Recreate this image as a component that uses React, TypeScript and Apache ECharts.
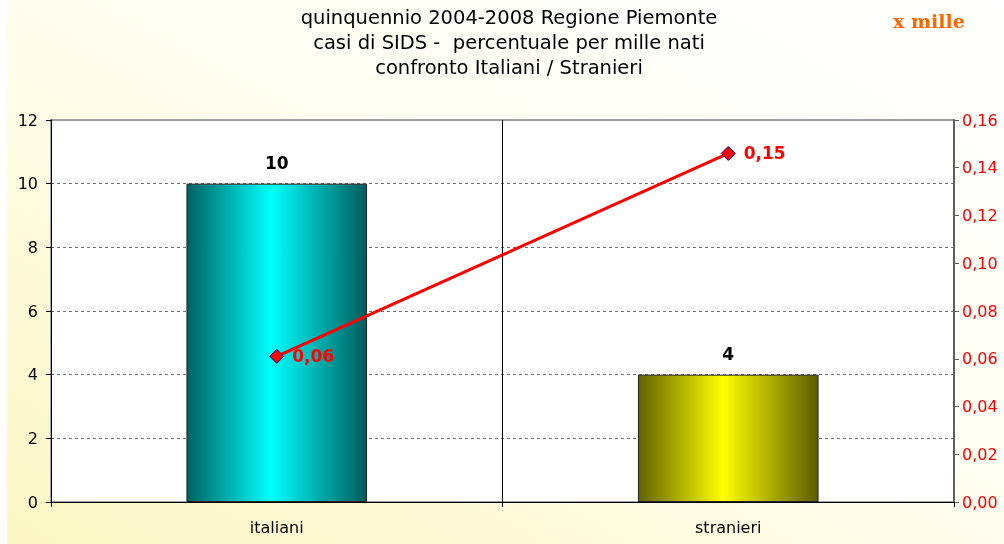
import React, { useEffect, useRef } from "react";
import * as echarts from "echarts";

const categories = ["italiani", "stranieri"];
const casiValues = [10, 4];
const perMilleValues = [0.061, 0.146];
const titleLines = [
  "quinquennio 2004-2008 Regione Piemonte",
  "casi di SIDS -  percentuale per mille nati",
  "confronto Italiani / Stranieri",
];
const unitNote = "x mille";

const barGradients = [
  ["#006262", "#00ffff", "#005c5c"],
  ["#626200", "#ffff00", "#5c5c00"],
];

const fmt = (v: number) => v.toFixed(2).replace(".", ",");

export default function App() {
  const ref = useRef<HTMLDivElement>(null);
  useEffect(() => {
    if (!ref.current) return;
    const chart = echarts.init(ref.current, null, { renderer: "svg" });
    const font = "'DejaVu Sans', Verdana, sans-serif";
    chart.setOption({
      animation: false,
      textStyle: { fontFamily: font },
      graphic: [
        {
          type: "rect",
          z: -100,
          silent: true,
          shape: { x: 7, y: 0, width: 997, height: 544 },
          style: {
            fill: new echarts.graphic.LinearGradient(0, 1, 1, 0, [
              { offset: 0, color: "#fcf7c4" },
              { offset: 0.3, color: "#fefbdc" },
              { offset: 0.55, color: "#fefef2" },
              { offset: 1, color: "#ffffff" },
            ]),
          },
        },
        ...titleLines.map((line, i) => ({
          type: "text",
          x: 509,
          y: 17 + i * 25,
          style: {
            text: line,
            fontFamily: font,
            fontSize: 19.5,
            fill: "#000",
            align: "center",
            verticalAlign: "middle",
          },
        })),
        {
          type: "text",
          x: 893,
          y: 21,
          style: {
            text: unitNote,
            fontFamily: "'DejaVu Serif', 'Liberation Serif', serif",
            fontWeight: "bold",
            fontSize: 19,
            fill: "#ff6600",
            align: "left",
            verticalAlign: "middle",
          },
        },
      ],
      grid: {
        left: 51,
        right: 50,
        top: 120,
        bottom: 42,
        show: true,
        backgroundColor: "#ffffff",
        borderColor: "#a0a0a0",
        borderWidth: 2,
      },
      xAxis: {
        type: "category",
        data: categories,
        boundaryGap: true,
        axisLine: { lineStyle: { color: "#000", width: 1 } },
        axisTick: { show: true, length: 5, lineStyle: { color: "#000" } },
        splitLine: { show: true, lineStyle: { color: "#000", width: 1 } },
        axisLabel: { color: "#000", fontSize: 16, margin: 17, fontFamily: font },
      },
      yAxis: [
        {
          type: "value",
          min: 0,
          max: 12,
          interval: 2,
          axisLine: { show: true, lineStyle: { color: "#000" } },
          axisTick: { show: true, length: 5, lineStyle: { color: "#000" } },
          axisLabel: { color: "#000", fontSize: 16, margin: 13, fontFamily: font },
          splitLine: {
            show: true,
            showMinLine: false,
            showMaxLine: false,
            lineStyle: { color: "#707070", type: [3, 3], width: 1 },
          },
        },
        {
          type: "value",
          position: "right",
          min: 0,
          max: 0.16,
          interval: 0.02,
          axisLine: { show: true, lineStyle: { color: "#606060", width: 2 } },
          axisTick: { show: true, length: 5, lineStyle: { color: "#606060" } },
          axisLabel: {
            color: "#ff0000",
            fontSize: 16,
            margin: 8,
            fontFamily: font,
            formatter: (v: number) => fmt(v),
          },
          splitLine: { show: false },
        },
      ],
      series: [
        {
          type: "bar",
          yAxisIndex: 0,
          barWidth: "40%",
          data: casiValues.map((v, i) => ({
            value: v,
            itemStyle: {
              color: new echarts.graphic.LinearGradient(0, 0, 1, 0, [
                { offset: 0, color: barGradients[i][0] },
                { offset: 0.47, color: barGradients[i][1] },
                { offset: 1, color: barGradients[i][2] },
              ]),
              borderColor: "#222",
              borderWidth: 1,
            },
          })),
          label: {
            show: true,
            position: "top",
            distance: 12,
            color: "#000",
            fontWeight: "bold",
            fontSize: 17,
            fontFamily: font,
          },
        },
        {
          type: "line",
          yAxisIndex: 1,
          data: perMilleValues,
          symbol: "diamond",
          symbolSize: 14,
          lineStyle: { color: "#ff0000", width: 3 },
          itemStyle: { color: "#ff0000", borderColor: "#000080", borderWidth: 1 },
          label: {
            show: true,
            position: "right",
            distance: 8,
            color: "#ff0000",
            fontWeight: "bold",
            fontSize: 17,
            fontFamily: font,
            formatter: (p: any) => fmt(p.value),
          },
          z: 5,
        },
      ],
    });
    return () => chart.dispose();
  }, []);
  return (
    <div
      ref={ref}
      style={{ position: "fixed", left: 0, top: 0, width: 1004, height: 544 }}
    />
  );
}
